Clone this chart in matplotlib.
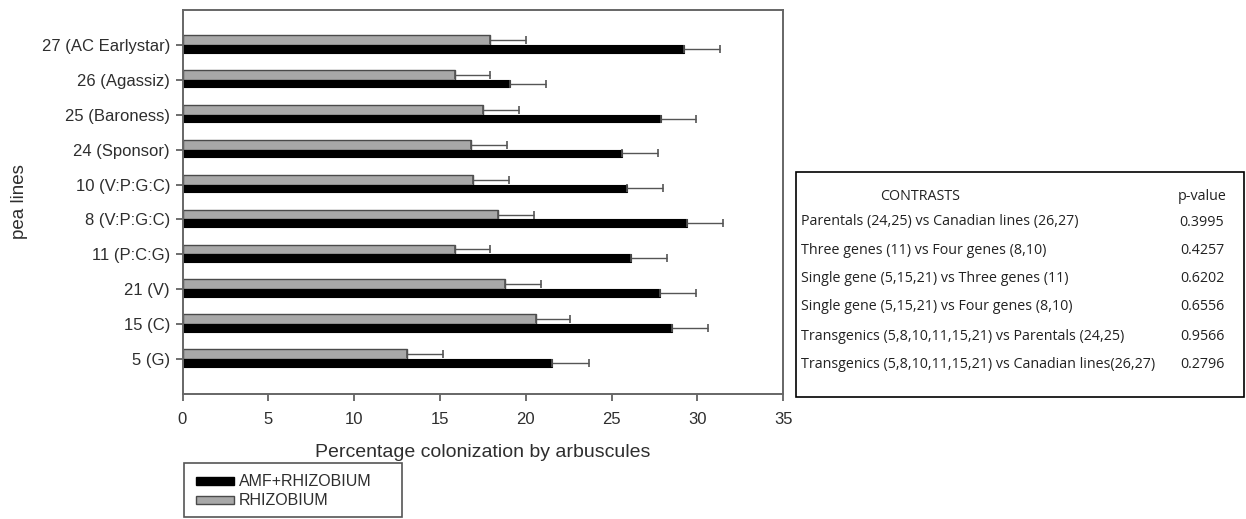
import numpy as np
import matplotlib
matplotlib.use('Agg')
import matplotlib.pyplot as plt
from matplotlib.patches import Rectangle

# pea lines, bottom to top
lines = ['5 (G)', '15 (C)', '21 (V)', '11 (P:C:G)', '8 (V:P:G:C)',
         '10 (V:P:G:C)', '24 (Sponsor)', '25 (Baroness)', '26 (Agassiz)',
         '27 (AC Earlystar)']

amf_rhiz = [21.5, 28.5, 27.8, 26.1, 29.4, 25.9, 25.6, 27.9, 19.1, 29.2]
amf_rhiz_err = [2.2, 2.1, 2.1, 2.1, 2.1, 2.1, 2.1, 2.0, 2.1, 2.1]
rhiz = [13.1, 20.6, 18.8, 15.9, 18.4, 16.9, 16.8, 17.5, 15.9, 17.9]
rhiz_err = [2.1, 2.0, 2.1, 2.0, 2.1, 2.1, 2.1, 2.1, 2.0, 2.1]

series_names = ['AMF+RHIZOBIUM', 'RHIZOBIUM']

contrasts = [
    'Parentals (24,25) vs Canadian lines (26,27)',
    'Three genes (11) vs Four genes (8,10)',
    'Single gene (5,15,21) vs Three genes (11)',
    'Single gene (5,15,21) vs Four genes (8,10)',
    'Transgenics (5,8,10,11,15,21) vs Parentals (24,25)',
    'Transgenics (5,8,10,11,15,21) vs Canadian lines(26,27)',
]
p_values = ['0.3995', '0.4257', '0.6202', '0.6556', '0.9566', '0.2796']

plt.rcParams['font.family'] = ['Liberation Sans', 'DejaVu Sans']
W, H = 1246, 519
fig = plt.figure(figsize=(W / 100, H / 100), dpi=100)
ax = fig.add_axes([182.5 / W, 1 - 394 / H, (783.3 - 182.5) / W, 384 / H])

def fx(px):
    return px / W

def fy(py):
    return 1 - py / H

y = np.arange(len(lines))
txt = '#2e2e2e'
gray = '#a8a8a8'
err_kw = dict(ecolor='#555555', elinewidth=1.0, capsize=3, capthick=1.2)

ax.barh(y + 0.14, rhiz, height=0.28, color=gray, edgecolor='#4a4a4a',
        linewidth=1.0, xerr=[np.zeros(len(rhiz)), rhiz_err], error_kw=err_kw)
ax.barh(y - 0.11, amf_rhiz, height=0.22, color='black', edgecolor='black',
        linewidth=0.8, xerr=[np.zeros(len(amf_rhiz)), amf_rhiz_err],
        error_kw=err_kw)

ax.set_xlim(0, 35)
ax.set_ylim(-1, 10)
ax.set_xticks(np.arange(0, 36, 5))
ax.set_yticks(y)
ax.set_yticklabels(lines)
ax.tick_params(direction='out', length=5, width=1.2, color='#555555',
               labelcolor=txt, labelsize=12, pad=4)
ax.tick_params(axis='x', pad=8)
for s in ax.spines.values():
    s.set_color('#666666')
    s.set_linewidth(1.4)

ax.set_xlabel('Percentage colonization by arbuscules', fontsize=14,
              color=txt, labelpad=12)
ax.set_ylabel('pea lines', fontsize=13.5, color=txt, labelpad=10)

# legend box below the axes
fig.add_artist(Rectangle((fx(184), fy(517)), (402 - 184) / W, (517 - 463) / H,
                         transform=fig.transFigure, fill=False,
                         edgecolor='#555555', linewidth=1.2))
leg_styles = [('black', 'black'), (gray, '#4a4a4a')]
for i, (name, (fc, ec)) in enumerate(zip(series_names, leg_styles)):
    top = 477 + i * 19
    fig.add_artist(Rectangle((fx(196), fy(top + 8)), 38 / W, 8 / H,
                             transform=fig.transFigure, facecolor=fc,
                             edgecolor=ec, linewidth=1.0))
    fig.text(fx(239), fy(top + 4.5), name, ha='left', va='center',
             fontsize=11.5, color=txt)

# contrasts table on the right
bx0, bx1, by0, by1 = 796, 1244, 172, 397
fig.add_artist(Rectangle((fx(bx0), fy(by1)), (bx1 - bx0) / W,
                         (by1 - by0) / H, transform=fig.transFigure,
                         fill=False, edgecolor='black', linewidth=1.2))
tfont = ['Open Sans', 'DejaVu Sans']
tsize = 10.3
fig.text(fx(920), fy(196), 'CONTRASTS', ha='center', va='center',
         fontsize=tsize, family=tfont, color='#222222')
fig.text(fx(1202), fy(196), 'p-value', ha='center', va='center',
         fontsize=tsize, family=tfont, color='#222222')
row_y = [222, 251, 279, 307, 337, 365]
for ry, c, p in zip(row_y, contrasts, p_values):
    fig.text(fx(801), fy(ry), c, ha='left', va='center',
             fontsize=tsize, family=tfont, color='#222222')
    fig.text(fx(1202), fy(ry), p, ha='center', va='center',
             fontsize=tsize, family=tfont, color='#222222')

fig.savefig('out.png', dpi=100)
